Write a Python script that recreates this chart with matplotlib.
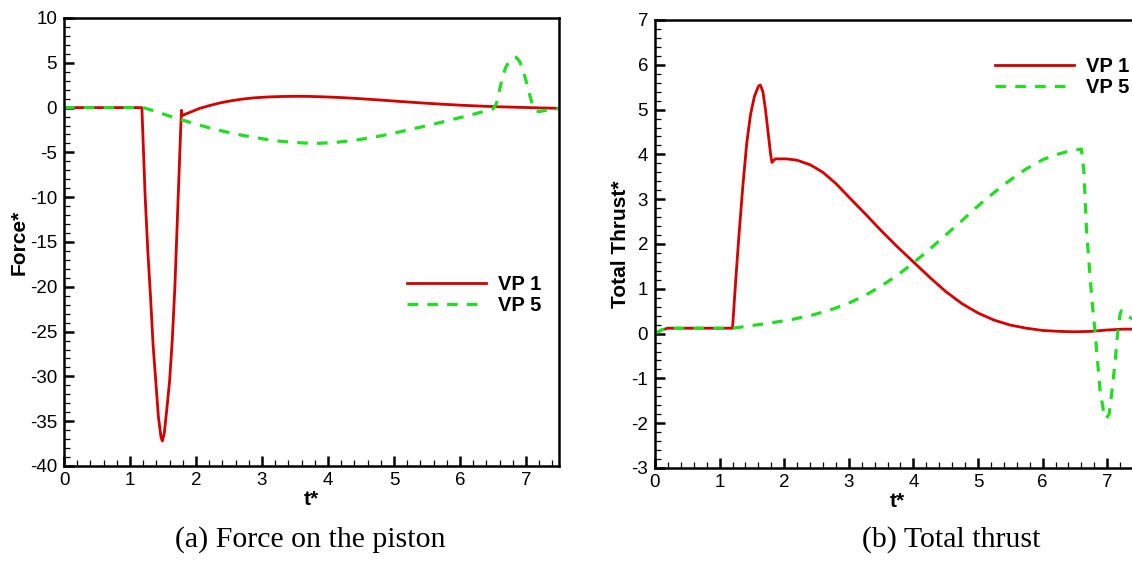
import matplotlib
matplotlib.use("Agg")
import matplotlib.pyplot as plt
from matplotlib.ticker import MultipleLocator

plt.rcParams["axes.unicode_minus"] = False

# ---- (a) force on the piston ----
t_force_vp1 = [0.0, 1.18, 1.20, 1.23, 1.27, 1.31, 1.35, 1.39, 1.43, 1.47, 1.49,
               1.52, 1.56, 1.60, 1.64, 1.68, 1.71, 1.73, 1.75, 1.77, 1.78, 1.79,
               1.85, 1.95, 2.05, 2.2, 2.35, 2.5, 2.7, 2.9, 3.1, 3.3, 3.5, 3.7,
               3.9, 4.2, 4.5, 4.8, 5.1, 5.4, 5.7, 6.0, 6.3, 6.6, 6.9, 7.2, 7.5]
force_vp1 = [0.0, 0.0, -4.0, -10.0, -16.0, -21.0, -26.5, -30.5, -34.5, -36.8, -37.2,
             -36.3, -33.5, -30.5, -26.0, -20.0, -14.0, -10.0, -6.0, -2.0, -0.3, -0.9,
             -0.7, -0.4, -0.1, 0.22, 0.5, 0.72, 0.95, 1.1, 1.19, 1.24, 1.26, 1.25,
             1.21, 1.12, 0.99, 0.84, 0.68, 0.53, 0.39, 0.27, 0.17, 0.09, 0.03, -0.03, -0.08]

t_force_vp5 = [0.0, 1.2, 1.4, 1.6, 1.8, 2.0, 2.3, 2.6, 2.9, 3.2, 3.5, 3.8, 4.1,
               4.4, 4.7, 5.0, 5.3, 5.6, 5.9, 6.2, 6.5, 6.55, 6.6, 6.65, 6.7,
               6.75, 6.8, 6.85, 6.9, 6.95, 7.0, 7.05, 7.1, 7.15, 7.2, 7.3, 7.4, 7.5]
force_vp5 = [0.0, 0.0, -0.45, -0.95, -1.4, -1.85, -2.45, -2.95, -3.35, -3.7, -3.9,
             -4.0, -3.9, -3.65, -3.3, -2.85, -2.35, -1.85, -1.3, -0.75, -0.15, 0.4,
             2.0, 3.6, 4.6, 5.2, 5.55, 5.6, 5.2, 4.3, 3.0, 1.6, 0.2, -0.35, -0.45,
             -0.3, -0.2, -0.1]

# ---- (b) total thrust ----
t_thrust_vp1 = [0.0, 0.1, 0.2, 1.2, 1.25, 1.3, 1.36, 1.42, 1.48, 1.54, 1.6, 1.63,
                1.67, 1.71, 1.75, 1.79, 1.81, 1.86, 2.04, 2.2, 2.4, 2.6, 2.8, 3.0,
                3.25, 3.5, 3.75, 4.0, 4.25, 4.5, 4.75, 5.0, 5.25, 5.5, 5.75, 6.0,
                6.25, 6.5, 6.75, 7.0, 7.25, 7.5]
thrust_vp1 = [0.0, 0.08, 0.12, 0.12, 1.2, 2.2, 3.3, 4.25, 4.9, 5.3, 5.52, 5.55,
              5.4, 5.0, 4.5, 4.0, 3.82, 3.9, 3.9, 3.87, 3.77, 3.6, 3.35, 3.05,
              2.68, 2.3, 1.94, 1.6, 1.26, 0.94, 0.67, 0.46, 0.3, 0.19, 0.12, 0.07,
              0.05, 0.04, 0.05, 0.08, 0.1, 0.1]

t_thrust_vp5 = [0.0, 0.1, 0.2, 1.2, 1.5, 1.8, 2.1, 2.4, 2.7, 3.0, 3.25, 3.5, 3.75,
                4.0, 4.25, 4.5, 4.75, 5.0, 5.25, 5.5, 5.75, 6.0, 6.2, 6.4, 6.6,
                6.64, 6.68, 6.76, 6.81, 6.89, 6.94, 6.98, 7.03, 7.08, 7.12, 7.16,
                7.2, 7.22, 7.3, 7.5]
thrust_vp5 = [0.0, 0.08, 0.12, 0.12, 0.18, 0.24, 0.31, 0.4, 0.52, 0.68, 0.85, 1.06, 1.3,
              1.58, 1.88, 2.2, 2.52, 2.85, 3.15, 3.43, 3.68, 3.88, 3.99, 4.07, 4.12,
              3.6, 2.3, 0.81, 0.07, -1.27, -1.7, -1.9, -1.8, -1.2, -0.67, 0.0,
              0.44, 0.51, 0.4, 0.25]

series_labels = ["VP 1", "VP 5"]
captions = ["(a) Force on the piston", "(b) Total thrust"]

RED = "#d40000"
GREEN = "#22dd22"
DASH = (0, (3.3, 2.9))
SANS = ["Liberation Sans", "DejaVu Sans"]
SERIF = ["Liberation Serif", "DejaVu Serif"]

fig = plt.figure(figsize=(11.32, 5.68), dpi=100)
W, H = 1132.0, 568.0


def px_axes(x0, x1, y0, y1):
    return fig.add_axes([x0 / W, 1 - y1 / H, (x1 - x0) / W, (y1 - y0) / H])


def style(ax, ymajor, yminor):
    ax.xaxis.set_major_locator(MultipleLocator(1))
    ax.xaxis.set_minor_locator(MultipleLocator(0.2))
    ax.yaxis.set_major_locator(MultipleLocator(ymajor))
    ax.yaxis.set_minor_locator(MultipleLocator(yminor))
    ax.tick_params(which="both", direction="in", top=False, right=False,
                   labelsize=13.5)
    ax.tick_params(axis="x", which="major", pad=4)
    ax.tick_params(axis="y", which="major", pad=5)
    ax.tick_params(which="major", length=7.5, width=1.8)
    ax.tick_params(which="minor", length=4.5, width=0.9)
    for lab in ax.get_xticklabels() + ax.get_yticklabels():
        lab.set_family(SANS)
    for sp in ax.spines.values():
        sp.set_linewidth(1.8)


LABEL_KW = dict(fontsize=15, fontweight="bold", family=SANS)
LEG_KW = dict(loc="upper left", frameon=False,
              prop={"family": SANS, "weight": "bold", "size": 14.5},
              handlelength=3.9, handletextpad=0.6, labelspacing=0.1,
              borderaxespad=0, borderpad=0)

ax1 = px_axes(64, 559, 18, 466)
ax1.plot(t_force_vp1, force_vp1, color=RED, lw=2.0, label=series_labels[0])
ax1.plot(t_force_vp5, force_vp5, color=GREEN, lw=2.3, ls=DASH,
         label=series_labels[1])
ax1.set_xlim(0, 7.5)
ax1.set_ylim(-40, 10)
style(ax1, 5, 1)
ax1.set_xlabel("t*", labelpad=1, **LABEL_KW)
ax1.set_ylabel("Force*", labelpad=1, **LABEL_KW)
ax1.legend(bbox_to_anchor=((407 - 64) / 495, (466 - 275) / 448), **LEG_KW)

ax2 = px_axes(655, 655 + 7.5 * 64.6, 20, 468)
ax2.plot(t_thrust_vp1, thrust_vp1, color=RED, lw=2.0, label=series_labels[0])
ax2.plot(t_thrust_vp5, thrust_vp5, color=GREEN, lw=2.3, ls=DASH,
         label=series_labels[1])
ax2.set_xlim(0, 7.5)
ax2.set_ylim(-3, 7)
style(ax2, 1, 0.2)
ax2.set_xlabel("t*", labelpad=1, **LABEL_KW)
ax2.set_ylabel("Total Thrust*", labelpad=1, **LABEL_KW)
ax2.legend(bbox_to_anchor=((995 - 655) / 484.5, (468 - 57) / 448), **LEG_KW)

fig.text(310 / W, 1 - 540 / H, captions[0], ha="center", va="center",
         family=SERIF, fontsize=21.5)
fig.text(951 / W, 1 - 540 / H, captions[1], ha="center", va="center",
         family=SERIF, fontsize=21.5)

fig.savefig("out.png", dpi=100)
